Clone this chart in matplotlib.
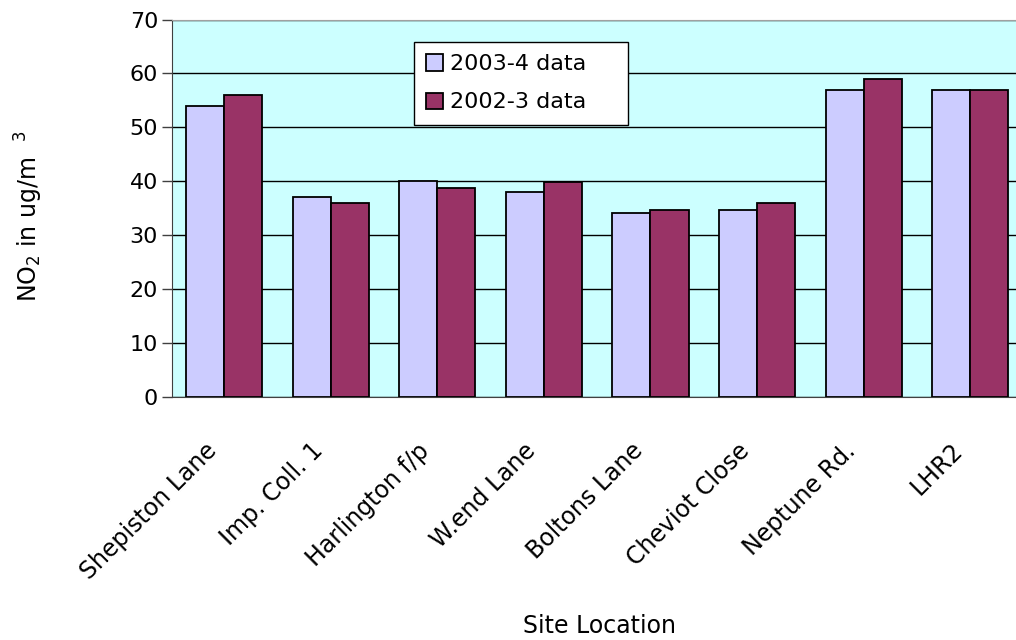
import matplotlib
matplotlib.use("Agg")
import matplotlib.pyplot as plt
import matplotlib.transforms as mtransforms
import numpy as np

sites = ["Shepiston Lane", "Imp. Coll. 1", "Harlington f/p", "W.end Lane",
         "Boltons Lane", "Cheviot Close", "Neptune Rd.", "LHR2"]
data_2003_4 = [54, 37, 40, 38.1, 34.1, 34.7, 57, 57]
data_2002_3 = [56, 35.9, 38.8, 39.9, 34.7, 35.9, 58.9, 57]

plt.rcParams["font.family"] = "DejaVu Sans"
plt.rcParams["font.size"] = 16

fig = plt.figure(figsize=(10.16, 6.4), dpi=100)
ax = fig.add_axes([172 / 1016, 1 - 397 / 640, 844 / 1016, 377.5 / 640])
ax.set_facecolor("#CCFFFF")

x = np.arange(len(sites))
w = 0.357
ax.bar(x - w / 2, data_2003_4, w, color="#CCCCFF", edgecolor="black",
       linewidth=1.3, label="2003-4 data", zorder=3)
ax.bar(x + w / 2, data_2002_3, w, color="#993366", edgecolor="black",
       linewidth=1.3, label="2002-3 data", zorder=3)

ax.set_xlim(-0.49, 7.43)
ax.set_ylim(0, 70)
ax.set_yticks(np.arange(0, 71, 10))
ax.yaxis.grid(True, color="black", linewidth=1.0, zorder=1)
ax.tick_params(axis="y", length=7, width=1, pad=3, color="#404040")
ax.tick_params(axis="x", length=0, pad=30)

ax.set_xticks(x)
ax.set_xticklabels(sites, rotation=45, ha="right", va="top",
                   rotation_mode="anchor", fontsize=17)
shift = mtransforms.ScaledTranslation(-0.2, 0, fig.dpi_scale_trans)
for lbl in ax.get_xticklabels():
    lbl.set_transform(lbl.get_transform() + shift)

ax.spines["right"].set_visible(False)
ax.spines["top"].set_color("#A0A0A0")
ax.spines["left"].set_color("#404040")
ax.spines["bottom"].set_color("#404040")

ax.set_ylabel(r"NO$_2$ in ug/m  $^3$", fontsize=17)
ax.yaxis.set_label_coords(-0.15, 0.48)
ax.set_xlabel("Site Location", fontsize=17)
ax.xaxis.set_label_coords(0.506, -0.575)

leg = ax.legend(loc="upper left",
                bbox_to_anchor=(414 / 1016, 1 - 123 / 640, 214 / 1016, 81 / 640),
                bbox_transform=fig.transFigure, borderaxespad=0, mode="expand",
                fancybox=False, framealpha=1, edgecolor="black",
                handlelength=0.75, handleheight=0.75, handletextpad=0.3,
                borderpad=0.55, labelspacing=0.82)
leg.get_frame().set_linewidth(1.0)

fig.savefig("out.png", dpi=100)
